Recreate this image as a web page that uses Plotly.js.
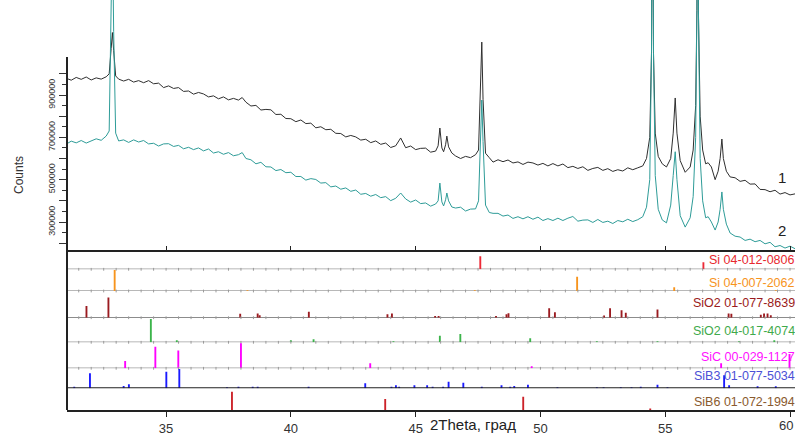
<!DOCTYPE html>
<html><head><meta charset="utf-8">
<script src="https://cdn.plot.ly/plotly-3.0.1.min.js"></script>
<style>html,body{margin:0;padding:0;background:#fff}#chart{width:795px;height:444px}</style>
</head><body><div id="chart"></div>
<script>
// ---- measured XRD patterns (2Theta, deg ; counts) ----
const twoTheta = [31.0,31.2,31.4,31.6,31.8,32.0,32.2,32.4,32.6,32.72,32.8,32.85,32.9,32.98,
33.1,33.3,33.5,33.7,33.9,34.1,34.3,34.5,34.7,34.9,35.1,35.3,35.5,35.7,35.9,36.1,36.3,36.5,36.7,36.9,
37.1,37.3,37.5,37.7,37.9,38.05,38.2,38.4,38.6,38.8,39.0,39.2,39.4,39.6,39.8,40.0,40.2,40.4,40.6,40.8,
41.0,41.2,41.4,41.6,41.8,42.0,42.2,42.4,42.6,42.8,43.0,43.2,43.4,43.6,43.8,44.0,44.2,44.4,44.6,44.8,
45.0,45.2,45.4,45.6,45.8,45.9,45.97,46.05,46.12,46.2,46.25,46.32,46.45,46.6,46.8,47.0,47.2,47.4,
47.52,47.6,47.65,47.7,47.8,47.95,48.1,48.3,48.5,48.7,48.9,49.1,49.3,49.5,49.7,49.9,50.1,50.3,50.5,
50.7,50.9,51.1,51.3,51.5,51.7,51.9,52.1,52.3,52.5,52.7,52.9,53.1,53.3,53.5,53.7,53.9,54.1,54.25,
54.38,54.45,54.49,54.53,54.6,54.72,54.88,55.05,55.22,55.32,55.4,55.47,55.6,55.8,56.0,56.12,56.22,
56.27,56.3,56.33,56.4,56.5,56.62,56.72,56.85,57.0,57.12,57.2,57.27,57.33,57.45,57.6,57.8,58.0,58.2,
58.4,58.6,58.8,59.0,59.2,59.4,59.6,59.8,60.0,60.2];
const counts1 = [979000,970000,983000,974000,985000,971000,981000,975000,986000,1000000,1120000,1195000,1110000,990000,
975000,966000,974000,961000,968000,958000,968000,953000,956000,935000,943000,931000,935000,917000,919000,904000,912000,905000,891000,896000,
882000,891000,877000,884000,876000,888000,866000,848000,851000,829000,832000,830000,808000,809000,789000,788000,774000,782000,765000,767000,
745000,750000,736000,738000,719000,718000,702000,709000,702000,687000,691000,675000,683000,667000,673000,652000,660000,697000,651000,659000,
642000,648000,649000,630000,635000,660000,744000,650000,632000,665000,706000,655000,626000,612000,600000,610000,604000,618000,
640000,900000,1150000,880000,625000,604000,583000,594000,585000,593000,579000,584000,572000,583000,579000,569000,577000,565000,576000,
565000,574000,557000,563000,553000,561000,544000,553000,558000,544000,552000,539000,547000,541000,556000,547000,556000,565000,600000,
700000,1100000,2200000,1100000,720000,610000,575000,560000,600000,720000,886000,720000,590000,535000,560000,640000,850000,
1300000,2200000,1300000,800000,640000,575000,580000,560000,500000,540000,600000,692000,600000,540000,513000,509000,492000,497000,
479000,480000,454000,453000,443000,450000,432000,439000,428000,433000];
const counts2 = [668000,682000,674000,685000,673000,685000,693000,686000,706000,730000,1250000,1700000,1200000,720000,
683000,688000,676000,688000,678000,685000,669000,672000,659000,669000,670000,657000,662000,646000,653000,642000,650000,636000,645000,626000,
632000,620000,628000,613000,618000,628000,600000,594000,575000,582000,561000,560000,543000,548000,533000,535000,515000,515000,498000,505000,
501000,484000,486000,466000,470000,455000,461000,445000,451000,431000,435000,422000,430000,415000,420000,401000,412000,437000,409000,394000,
404000,387000,390000,375000,385000,400000,484000,395000,376000,405000,437000,400000,371000,366000,370000,352000,361000,362000,
400000,700000,876000,680000,380000,345000,341000,341000,328000,333000,317000,325000,315000,325000,313000,323000,307000,316000,307000,
318000,307000,318000,326000,304000,309000,310000,298000,312000,298000,304000,293000,307000,301000,313000,302000,311000,325000,370000,
500000,1100000,2400000,1100000,520000,360000,310000,296000,380000,520000,632000,500000,330000,276000,320000,420000,700000,
1300000,2400000,1300000,600000,400000,320000,325000,300000,262000,300000,360000,442000,360000,290000,248000,233000,229000,213000,
219000,207000,213000,197000,204000,183000,189000,177000,186000,174000];
const curveLabels = ["1", "2"];
const xTickVals = [35, 40, 45, 50, 55, 60];
const xTickText = ["35", "40", "45", "50", "55", "60"];

// ---- reference stick patterns (position, relative intensity) ----
const phaseNames = ["Si 04-012-0806","Si 04-007-2062","SiO2 01-077-8639","SiO2 04-017-4074","SiC 00-029-1127","SiB3 01-077-5034","SiB6 01-072-1994"];
const si1Pos = [47.59,56.53];
const si1Int = [67,36];
const si2Pos = [32.94,38.26,47.37,51.47,55.36,59.43];
const si2Int = [97,4,4,66,17,4];
const sio2aPos = [31.81,32.69,37.97,38.67,38.75,40.72,43.87,44.05,45.78,45.92,48.22,48.64,48.72,50.35,50.58,52.55,52.79,53.25,53.42,54.69,57.54,57.65,58.83,58.96,59.1,59.23];
const sio2aInt = [44,76,15,16,9,22,13,16,6,6,6,13,17,35,20,8,35,28,19,31,16,15,11,16,16,9];
const sio2bPos = [34.39,35.43,40.0,40.91,44.11,45.97,46.79,49.59,52.26,54.69,57.96,59.37];
const sio2bInt = [95,8,8,12,4,27,34,16,4,4,4,8];
const sicPos = [33.36,34.57,35.49,38.0,43.18,49.65,57.24,59.98];
const sicInt = [28,83,68,96,19,8,19,55];
const sib3Pos = [31.32,31.95,33.3,33.51,35.01,35.53,37.44,37.9,38.47,38.67,40.71,42.98,44.03,44.21,44.34,44.95,45.46,45.68,46.1,46.32,46.91,47.65,48.44,48.79,48.95,49.5,50.68,52.26,52.53,53.22,53.65,54.02,54.69,55.09,57.36,57.56,58.7,59.43];
const sib3Int = [8,75,12,20,83,96,5,8,8,8,8,25,8,15,8,15,15,8,8,33,28,8,15,8,12,18,5,5,5,5,5,8,18,5,65,15,10,10];
const sib6Pos = [37.64,43.78,49.31,54.4];
const sib6Int = [84,51,61,7];

const stickPos = [si1Pos,si2Pos,sio2aPos,sio2bPos,sicPos,sib3Pos,sib6Pos];
const stickInt = [si1Int,si2Int,sio2aInt,sio2bInt,sicInt,sib3Int,sib6Int];
const stickColors = ['#ed2a37','#f7941d','#9b1b20','#3cb44b','#ff00ff','#1a1aff','#cc2229'];
const textColors  = ['#e8282f','#f7941d','#9b1b20','#3faa4c','#ff10ff','#4b50d6','#8a5a2e'];

// ---- layout geometry (pixels inside the 410 px tall plot area) ----
const PH = 410;
const bounds = [0,250,269.3,291,317.7,342.3,368.3,388.3,410];
const labelY = [260,282.7,303.3,330.7,356.7,376,401.7];
const fy = p => (PH - p) / PH;
const fx = p => (p - 67) / 728;
const FONT = 'Liberation Sans, Arial, sans-serif';
const XR = [31.03, 60.2];

const traces = [
  {x: twoTheta, y: counts1, type:'scatter', mode:'lines', line:{color:'#2f2f2f', width:1}, xaxis:'x', yaxis:'y'},
  {x: twoTheta, y: counts2, type:'scatter', mode:'lines', line:{color:'#2e9c98', width:1}, xaxis:'x', yaxis:'y'}
];

// the last x tick label sits at the right edge: draw it right-aligned so it stays inside
const lastIdx = xTickVals.length - 1;
const shownText = xTickText.map((t, k) => k === lastIdx ? '' : t);

const layout = {
  width:795, height:444,
  margin:{l:67, r:0, t:0, b:34},
  paper_bgcolor:'#fff', plot_bgcolor:'rgba(0,0,0,0)',
  showlegend:false, barmode:'overlay',
  font:{family:FONT, color:'#333'},
  xaxis:{domain:[0,1], range:XR, anchor:'y', showline:true, linewidth:2, linecolor:'#222',
         ticks:'inside', ticklen:4, tickcolor:'#222', tickmode:'array', tickvals:xTickVals, showticklabels:false,
         showgrid:false, zeroline:false},
  xaxis2:{domain:[0,1], range:XR, matches:'x', anchor:'y8', showline:true, linewidth:2, linecolor:'#222',
         ticks:'outside', ticklen:5, tickcolor:'#222', tickmode:'array', tickvals:xTickVals, ticktext:shownText,
         showgrid:false, zeroline:false,
         tickfont:{size:13, color:'#333', family:FONT}},
  yaxis:{domain:[fy(250),1], range:[167800,1348800], anchor:'x', showline:false, showgrid:false, zeroline:false,
         tickmode:'array',
         tickvals:[200000,300000,400000,500000,600000,700000,800000,900000,1000000],
         ticktext:['','300000','','500000','','700000','','900000',''],
         ticks:'outside', ticklen:7, tickcolor:'#333', tickangle:-90,
         tickfont:{size:9, color:'#333', family:FONT},
         minor:{tickmode:'array', tickvals:[250000,350000,450000,550000,650000,750000,850000,950000],
                ticks:'outside', ticklen:4, tickcolor:'#333', showgrid:false}},
  shapes:[], annotations:[]
};

// main y-axis line (only up to ~1.08e6) and left border of stick panels
layout.shapes.push({type:'line', xref:'paper', yref:'y', x0:0, x1:0, y0:167800, y1:1080000, line:{color:'#222', width:2}});
layout.shapes.push({type:'line', xref:'paper', yref:'paper', x0:0, x1:0, y0:0, y1:fy(250), line:{color:'#222', width:2}});

const tickXs = [];
for (let t = 31.5; t <= 60.01; t += 0.5) tickXs.push(t);

for (let i = 0; i < 7; i++) {
  const ax = 'yaxis' + (i + 2), ref = 'y' + (i + 2);
  layout[ax] = {domain:[fy(bounds[i+2]), fy(bounds[i+1])], range:[0,100], anchor:'x2', visible:false, fixedrange:true};
  traces.push({type:'bar', x: stickPos[i], y: stickInt[i], width:0.075, marker:{color: stickColors[i], line:{width:0}},
               xaxis:'x2', yaxis:ref});
  if (i < 5) {
    layout.shapes.push({type:'line', xref:'paper', yref:ref, x0:0, x1:1, y0:0, y1:0,
      line:{color: i === 2 ? '#666' : '#a0a0a0', width:1.5}, layer:'below'});
    traces.push({type:'scatter', mode:'markers', x: tickXs, y: tickXs.map(() => 0), xaxis:'x2', yaxis:ref,
      cliponaxis:false, marker:{symbol:'line-ns', size:2, line:{width:1, color:'#9a9a9a'}}, hoverinfo:'skip'});
  } else if (i === 5) {
    layout.shapes.push({type:'line', xref:'paper', yref:ref, x0:0, x1:1, y0:0, y1:0, line:{color:'#222', width:2}});
  }
  layout.annotations.push({xref:'paper', yref:'paper', x:fx(797), y:fy(labelY[i]), xanchor:'right', yanchor:'middle',
    text: phaseNames[i], showarrow:false, font:{size:12.5, color: textColors[i], family:FONT}});
}

// last x tick label, kept inside the page
layout.annotations.push({xref:'paper', yref:'paper', x:1, y:fy(416), xanchor:'right', yanchor:'top',
  text: xTickText[lastIdx], showarrow:false, font:{size:13, color:'#333', family:FONT}});

// curve numbers
layout.annotations.push({xref:'paper', yref:'paper', x:fx(788), y:fy(177), text:curveLabels[0], showarrow:false,
  font:{size:15, color:'#222', family:FONT}});
layout.annotations.push({xref:'paper', yref:'paper', x:fx(788), y:fy(230), text:curveLabels[1], showarrow:false,
  font:{size:15, color:'#222', family:FONT}});
// axis titles
layout.annotations.push({xref:'paper', yref:'paper', x:fx(10), y:fy(175), text:'Counts', textangle:-90, showarrow:false,
  font:{size:12, color:'#333', family:FONT}});
layout.annotations.push({xref:'paper', yref:'paper', x:fx(473), y:fy(435), text:'2Theta, град', showarrow:false,
  font:{size:15, color:'#222', family:FONT}});

Plotly.newPlot('chart', traces, layout, {staticPlot:true, displayModeBar:false});
</script></body></html>
